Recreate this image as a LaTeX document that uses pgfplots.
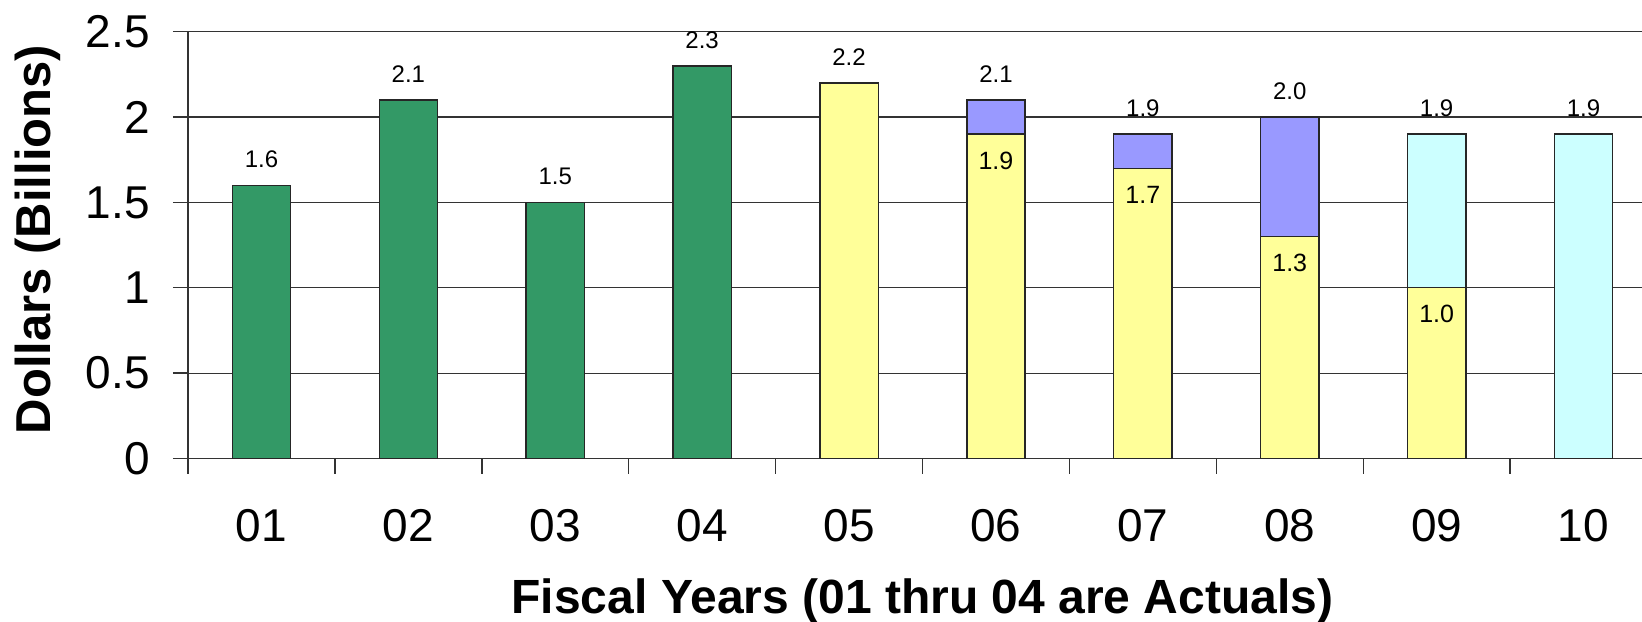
\documentclass[border=0pt]{standalone}
\usepackage{pgfplots}
\pgfplotsset{compat=1.18}
\usepackage{fontspec}
\setmainfont{Liberation Sans}
\definecolor{cgreen}{RGB}{51,153,102}
\definecolor{cyellow}{RGB}{255,255,153}
\definecolor{cpurple}{RGB}{153,153,255}
\definecolor{ccyan}{RGB}{204,255,255}
\begin{document}
\begin{tikzpicture}
\path[use as bounding box] (-94pt,-81.25pt) rectangle (727pt,229.25pt);
\begin{axis}[
  at={(0pt,0pt)}, anchor=south west,
  scale only axis, width=734.5pt, height=213.4pt,
  xmin=-0.5, xmax=9.5, ymin=0, ymax=2.5,
  xtick={0,1,2,3,4,5,6,7,8,9},
  xticklabels={01,02,03,04,05,06,07,08,09,10},
  ytick={0,0.5,1,1.5,2,2.5},
  yticklabels={0,0.5,1,1.5,2,2.5},
  minor xtick={-0.5,0.5,1.5,2.5,3.5,4.5,5.5,6.5,7.5,8.5,9.5},
  minor ytick={0,0.5,1,1.5,2,2.5},
  major tick length=0pt, minor tick length=7.5pt,
  tick align=outside,
  xtick pos=bottom, ytick pos=left,
  ymajorgrids,
  grid style={black!80, line width=0.6pt},
  axis line style={black!80, line width=0.7pt},
  tick style={black!80, line width=0.7pt},
  /pgf/number format/assume math mode=true,
  /pgf/number format/fixed,
  /pgf/number format/fixed zerofill,
  /pgf/number format/precision=1,
  tick label style={font=\fontsize{23}{27}\selectfont},
  yticklabel style={anchor=east, inner sep=0pt, xshift=-19pt},
  xticklabel style={anchor=center, inner sep=0pt, yshift=-33.5pt},
  xlabel={Fiscal Years (01 thru 04 are Actuals)},
  ylabel={Dollars (Billions)},
  xlabel style={font=\fontsize{24}{28}\selectfont\bfseries, at={(axis description cs:0.5,-0.3627)}, anchor=base, inner sep=0pt},
  ylabel style={font=\fontsize{24.5}{29}\selectfont\bfseries, at={(axis description cs:-0.0939,0.513)}, anchor=base, inner sep=0pt},
  topl/.style={nodes near coords, point meta=y, every node near coord/.append style={font=\fontsize{12}{14}\selectfont, anchor=south, inner sep=0pt, yshift=8.25pt}},
  inl/.style={nodes near coords, point meta=y, every node near coord/.append style={font=\fontsize{12.5}{14}\selectfont, anchor=north, inner sep=0pt, yshift=-8.5pt}},
  barsty/.style={ybar, bar width=29.15pt, bar shift=0pt, draw=black!85, line width=0.7pt},
]
\addplot[barsty, fill=ccyan, topl] coordinates {(8,1.9) (9,1.9)};
\addplot[barsty, fill=cpurple, topl] coordinates {(5,2.1) (6,1.9) (7,2.0)};
\addplot[barsty, fill=cyellow, topl] coordinates {(4,2.2)};
\addplot[barsty, fill=cyellow, inl] coordinates {(5,1.9) (6,1.7) (7,1.3) (8,1.0)};
\addplot[barsty, fill=cgreen, topl] coordinates {(0,1.6) (1,2.1) (2,1.5) (3,2.3)};
\end{axis}
\end{tikzpicture}
\end{document}
